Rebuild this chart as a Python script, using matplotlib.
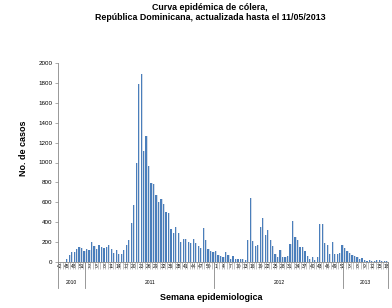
import matplotlib
matplotlib.use("Agg")
import matplotlib.pyplot as plt
import numpy as np

# casos por semana epidemiologica
casos_2010 = [0, 0, 0, 30, 70, 100, 100, 130, 150, 140, 110]
casos_2011 = [130, 120, 200, 165, 130, 170, 155, 140, 150, 175,
              130, 90, 120, 80, 80, 120, 175, 225, 390, 570,
              990, 1790, 1890, 1115, 1265, 965, 795, 780, 675, 605,
              630, 585, 500, 490, 330, 295, 350, 295, 205, 230,
              230, 205, 195, 230, 190, 160, 145, 340, 220, 130,
              110, 105]
casos_2012 = [110, 70, 65, 55, 100, 70, 35, 60, 30, 30,
              35, 35, 25, 220, 643, 210, 165, 170, 355, 440,
              270, 318, 220, 160, 85, 55, 120, 55, 55, 60,
              180, 410, 255, 220, 150, 150, 110, 60, 35, 50,
              25, 50, 380, 380, 190, 170, 80, 205, 80, 85,
              95, 170]
casos_2013 = [145, 110, 90, 70, 65, 50, 27, 37, 20, 13,
              20, 13, 13, 20, 20, 10, 10, 7]

semanas_2010 = list(range(42, 53))
semanas_2011 = list(range(1, 53))
semanas_2012 = list(range(1, 53))
semanas_2013 = list(range(1, 19))

anos = ["2010", "2011", "2012", "2013"]

casos = casos_2010 + casos_2011 + casos_2012 + casos_2013
semanas = semanas_2010 + semanas_2011 + semanas_2012 + semanas_2013
tamanos = [len(semanas_2010), len(semanas_2011), len(semanas_2012), len(semanas_2013)]

plt.rcParams['font.family'] = ['Liberation Sans', 'DejaVu Sans']

fig = plt.figure(figsize=(3.92, 3.08), dpi=100)
ax = fig.add_axes([58/392, 1-262/308, 330/392, 199/308])

x = np.arange(len(casos))
ax.bar(x + 0.35, casos, width=0.55, color='#d3dce8', zorder=1)
ax.bar(x, casos, width=0.5, color='#4a7ebb', zorder=2)

ax.set_xlim(-0.5, len(casos) - 0.5)
ax.set_ylim(0, 2000)
ax.set_yticks(range(0, 2001, 200))
ax.tick_params(axis='y', labelsize=4.5, length=2, width=0.5, colors='#888888', labelcolor='black', pad=2)

for s in ['top', 'right']:
    ax.spines[s].set_visible(False)
ax.spines['left'].set_color('#888888')
ax.spines['bottom'].set_color('#888888')
ax.spines['left'].set_linewidth(0.6)
ax.spines['bottom'].set_linewidth(0.6)

# etiquetas cada 3 semanas
ax.set_xticks(x[::3])
ax.set_xticklabels([str(s) for s in semanas[::3]], fontsize=3.5)
ax.tick_params(axis='x', length=0, pad=1.5)
ax.set_xticks(np.arange(len(casos) + 1) - 0.5, minor=True)
ax.tick_params(axis='x', which='minor', length=5, width=0.4, color='#999999')

# separadores de anos
trans = ax.get_xaxis_transform()
limites = np.concatenate([[0], np.cumsum(tamanos)]) - 0.5
for b in limites:
    ax.plot([b, b], [0, -0.13], transform=trans, color='#888888', lw=0.6, clip_on=False)
for i in range(len(anos)):
    centro = (limites[i] + limites[i + 1]) / 2
    ax.text(centro, -0.105, anos[i], transform=trans, ha='center', va='center', fontsize=3.6)

fig.text(23/392, 1-148/308, "No. de casos", rotation=90, ha='center', va='center',
         fontsize=6.5, fontweight='bold')
fig.text(211/392, 1-297/308, "Semana epidemiologica", ha='center', va='center',
         fontsize=6.5, fontweight='bold')
fig.text(210/392, 1-7/308, "Curva epidémica de cólera,", ha='center', va='center',
         fontsize=6.4, fontweight='bold')
fig.text(210/392, 1-18/308, "República Dominicana, actualizada hasta el 11/05/2013", ha='center',
         va='center', fontsize=6.4, fontweight='bold')

fig.savefig("out.png", dpi=100)
